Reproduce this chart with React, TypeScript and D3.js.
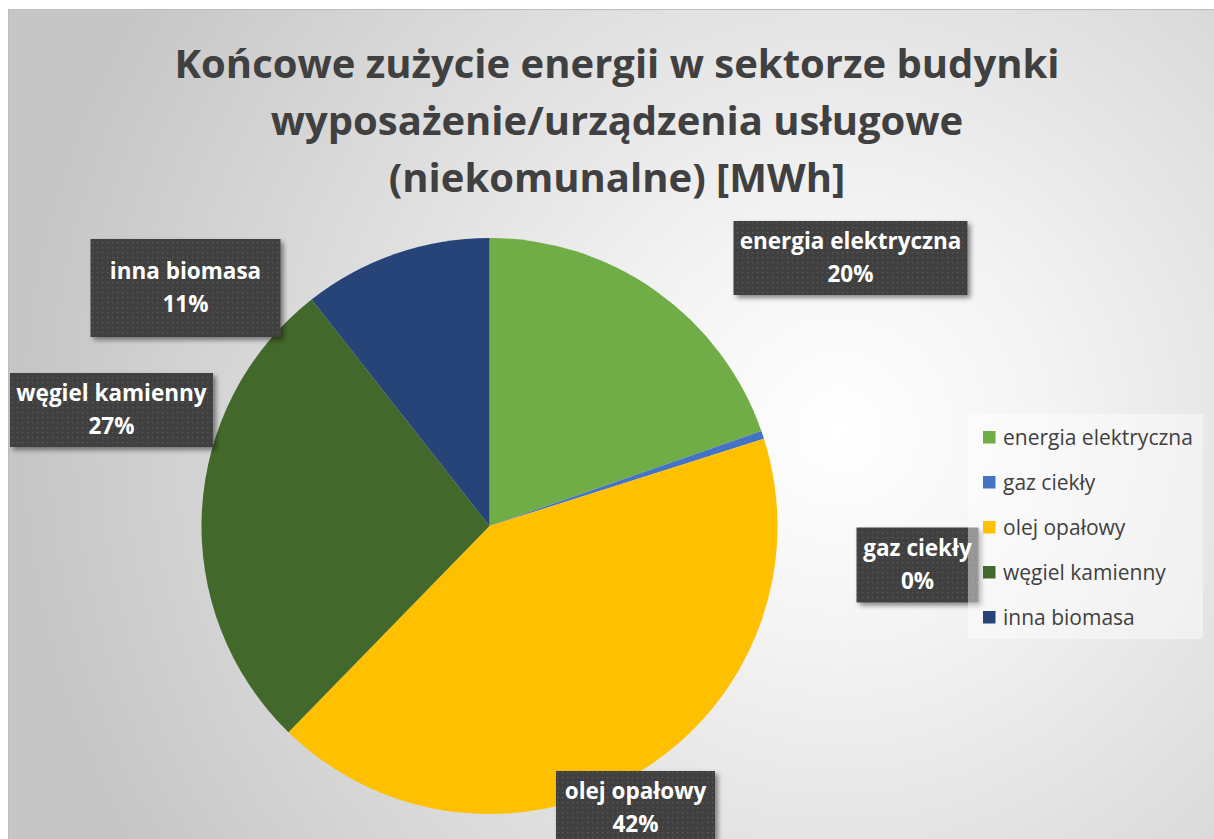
import React from 'react';
import * as d3 from 'd3';

const categories = ['energia elektryczna', 'gaz ciekły', 'olej opałowy', 'węgiel kamienny', 'inna biomasa'];
const shares = [19.65, 0.45, 42.2, 27.1, 10.6];
const colors = ['#70ad47', '#4472c4', '#ffc000', '#43682b', '#264478'];
const titleLines = ['Końcowe zużycie energii w sektorze budynki', 'wyposażenie/urządzenia usługowe', '(niekomunalne) [MWh]'];

// label box placement relative to pie centre (best-fit style, like the original)
const labelBoxes = [
  { dx: 361, dy: -268, w: 234, h: 74 },
  { dx: 428, dy: 39, w: 122, h: 75 },
  { dx: 146, dy: 282, w: 159, h: 74 },
  { dx: -378, dy: -116, w: 203, h: 74 },
  { dx: -304, dy: -238, w: 190, h: 98 },
];

const W = 1214;
const H = 839;
const cx = 489.5;
const cy = 526;
const radius = 288;
const font = '"Open Sans", Lato, sans-serif';

export default function App() {
  const pie = d3.pie<number>().sort(null).value(d => d);
  const arcs = pie(shares);
  const arc = d3.arc<d3.PieArcDatum<number>>().innerRadius(0).outerRadius(radius);
  const total = d3.sum(shares);
  const pct = d3.format('.0%');

  const legendX = 968;
  const legendY = 414;
  const rowH = 45;

  return (
    <div style={{ position: 'fixed', left: 0, top: 0, width: W, height: H }}>
      <svg width={W} height={H} style={{ display: 'block' }}>
        <defs>
          <radialGradient id="bg" gradientUnits="userSpaceOnUse" cx={840} cy={430} r={820}>
            <stop offset="0" stopColor="#ffffff" />
            <stop offset="0.25" stopColor="#f4f4f4" />
            <stop offset="1" stopColor="#c6c6c6" />
          </radialGradient>
          <pattern id="dots" width={5} height={5} patternUnits="userSpaceOnUse">
            <rect width={5} height={5} fill="#404040" />
            <rect x={2} y={2} width={1.3} height={1.3} fill="#5a5a5a" />
          </pattern>
          <filter id="shadow" x="-10%" y="-10%" width="130%" height="140%">
            <feDropShadow dx={3} dy={3} stdDeviation={2.5} floodColor="#000" floodOpacity={0.45} />
          </filter>
        </defs>
        <rect x={0} y={0} width={W} height={H} fill="#ffffff" />
        <rect x={8.5} y={9.5} width={W} height={H} fill="url(#bg)" stroke="#bdbdbd" strokeWidth={1} />

        <g fontFamily={font} fontWeight={700} fontSize={40} fill="#404040" textAnchor="middle">
          {titleLines.map((t, i) => (
            <text key={i} x={617} y={78 + i * 57}>{t}</text>
          ))}
        </g>

        <g transform={`translate(${cx},${cy})`}>
          {arcs.map((a, i) => (
            <path key={i} d={arc(a) || ''} fill={colors[i]} />
          ))}
        </g>

        {arcs.map((a, i) => {
          const b = labelBoxes[i];
          const x0 = cx + b.dx - b.w / 2;
          const y0 = cy + b.dy - b.h / 2;
          return (
            <g key={i}>
              <rect x={x0} y={y0} width={b.w} height={b.h} fill="url(#dots)" filter="url(#shadow)" />
              <g fontFamily={font} fontWeight={700} fontSize={22.5} fill="#ffffff" textAnchor="middle">
                <text x={cx + b.dx} y={cy + b.dy - 9}>{categories[i]}</text>
                <text x={cx + b.dx} y={cy + b.dy + 24}>{pct(a.value / total)}</text>
              </g>
            </g>
          );
        })}

        <rect x={legendX} y={legendY} width={235} height={225} fill="#ffffff" fillOpacity={0.45} />
        {categories.map((c, i) => (
          <g key={i} transform={`translate(${legendX + 15},${legendY + 23 + i * rowH})`}>
            <rect x={0} y={-6} width={12.5} height={12.5} fill={colors[i]} />
            <text x={20} y={7.5} fontFamily={font} fontSize={21} fill="#404040">{c}</text>
          </g>
        ))}
      </svg>
    </div>
  );
}
